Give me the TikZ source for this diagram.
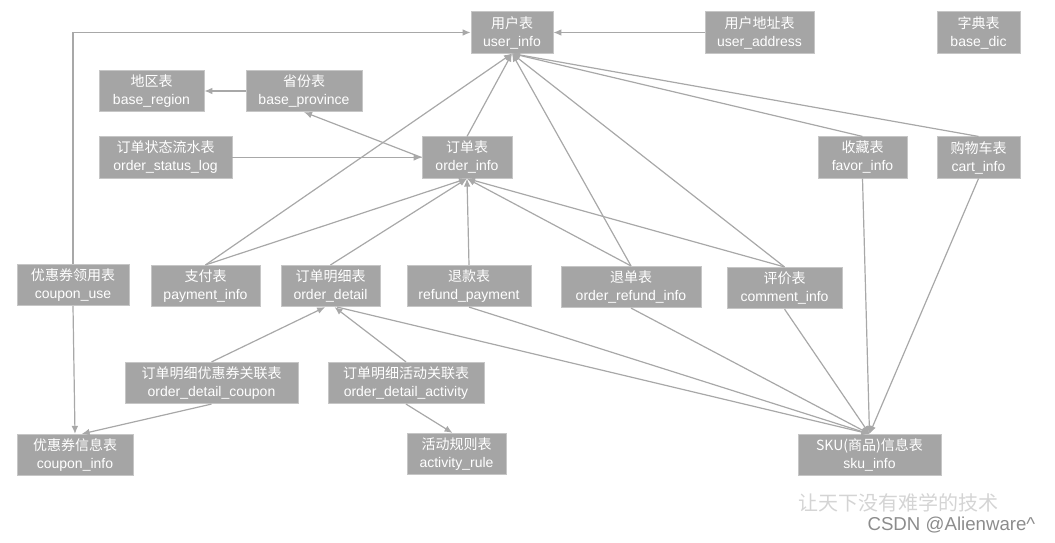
\documentclass[tikz,border=0pt]{standalone}
\usepackage{fontspec}
\setmainfont{Liberation Sans}
\newfontfamily\cjk{Noto Sans CJK SC}
\usetikzlibrary{arrows.meta}
\definecolor{boxgray}{HTML}{A5A5A5}
\definecolor{boxedge}{HTML}{C6C6C6}
\definecolor{linegray}{HTML}{A8A8A8}
\definecolor{wmlight}{HTML}{D4D4D4}
\definecolor{wmgray}{HTML}{8C8C8C}

\begin{document}
\begin{tikzpicture}[x=0.75pt,y=-0.75pt,>={Latex[length=6pt,width=5pt]},
  tbl/.style={fill=boxgray,draw=boxedge,line width=0.6pt,text=white,align=center,
    inner sep=0pt,minimum width=#1*0.75pt,minimum height=31pt,
    font=\fontsize{10.5}{13.5}\selectfont},
  link/.style={draw=linegray,line width=0.9pt}]
\useasboundingbox (0,0) rectangle (1055,542);
% top row
\node[tbl=82] (user) at (512,32.5) {{\cjk 用户表}\\user\_info};
\node[tbl=109] (addr) at (759.5,32.5) {{\cjk 用户地址表}\\user\_address};
\node[tbl=83] (dic) at (978.5,32.5) {{\cjk 字典表}\\base\_dic};
\node[tbl=105] (region) at (151.5,91) {{\cjk 地区表}\\base\_region};
\node[tbl=116] (prov) at (304,91) {{\cjk 省份表}\\base\_province};
% second row
\node[tbl=133] (slog) at (165.5,157.5) {{\cjk 订单状态流水表}\\order\_status\_log};
\node[tbl=90] (order) at (467,157.5) {{\cjk 订单表}\\order\_info};
\node[tbl=89] (favor) at (862.5,157.5) {{\cjk 收藏表}\\favor\_info};
\node[tbl=83] (cart) at (978.5,157.5) {{\cjk 购物车表}\\cart\_info};
% third row
\node[tbl=112] (cuse) at (73,285) {{\cjk 优惠券领用表}\\coupon\_use};
\node[tbl=109] (pay) at (205.5,286) {{\cjk 支付表}\\payment\_info};
\node[tbl=99] (detail) at (330.5,286) {{\cjk 订单明细表}\\order\_detail};
\node[tbl=124] (refund) at (469,286) {{\cjk 退款表}\\refund\_payment};
\node[tbl=140] (oref) at (631,287) {{\cjk 退单表}\\order\_refund\_info};
\node[tbl=115] (comment) at (784.5,288) {{\cjk 评价表}\\comment\_info};
% bottom rows
\node[tbl=173] (dcoupon) at (211.5,383) {{\cjk 订单明细优惠券关联表}\\order\_detail\_coupon};
\node[tbl=156] (dact) at (406,383) {{\cjk 订单明细活动关联表}\\order\_detail\_activity};
\node[tbl=116] (coupon) at (75,455) {{\cjk 优惠券信息表}\\coupon\_info};
\node[tbl=99] (rule) at (456.5,454) {{\cjk 活动规则表}\\activity\_rule};
\node[tbl=143] (sku) at (869.5,455) {{\cjk SKU(商品)信息表}\\sku\_info};

\draw[link,->] (addr) -- (user);
\draw[link,->] (cuse.north) |- (user.west);
\draw[link,->] (prov) -- (region);
\draw[link,->] (order.west) -- (prov.south);
\draw[link,->] (slog.east) -- (order.west);
\foreach \s in {order,pay,oref,comment,favor,cart} {
  \draw[link,->] (\s.north) -- (user.south);
}
\foreach \s in {pay,detail,refund,oref,comment} {
  \draw[link,->] (\s.north) -- (order.south);
}
\foreach \s in {favor,cart,comment,oref,refund} {
  \draw[link,->] (\s.south) -- (sku.north);
}
\draw[link,->] ([xshift=5pt]detail.south) -- (sku.north);
\draw[link,->] (dcoupon.north) -- ([xshift=-4pt]detail.south);
\draw[link,->] (dact.north) -- ([xshift=3pt]detail.south);
\draw[link,->] (cuse.south) -- (coupon.north);
\draw[link,->] (dcoupon.south) -- ([xshift=5pt]coupon.north);
\draw[link,->] (dact.south) -- ([xshift=-3pt]rule.north);

% watermark
\node[anchor=west,text=wmlight,font=\cjk\fontsize{15}{15}\selectfont] (motto) at (794,503) {让天下没有难学的技术};
\node[anchor=east,text=wmgray,font=\fontsize{14}{14}\selectfont] (csdn) at (1040,525) {CSDN @Alienware\textasciicircum};
\end{tikzpicture}
\end{document}
